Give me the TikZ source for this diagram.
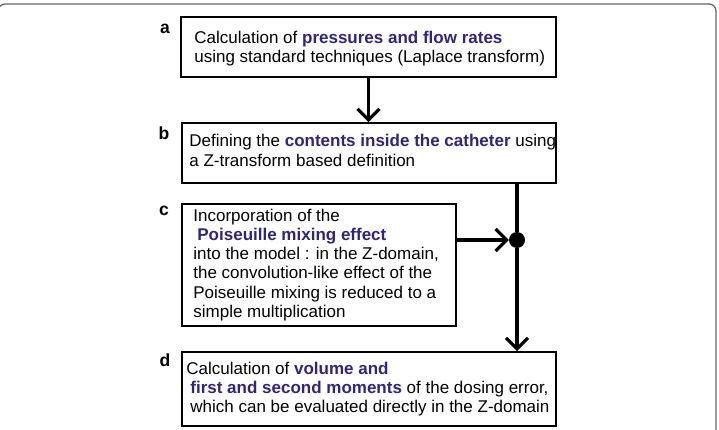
\documentclass[tikz,border=0pt]{standalone}
\usepackage{fontspec}
\setmainfont{Liberation Sans}
\usepackage{tikz}
\usetikzlibrary{arrows.meta,calc}
\definecolor{deepblue}{RGB}{46,37,125}
\def\hl#1{\textcolor{deepblue}{\bfseries #1}}

\begin{document}
\begin{tikzpicture}[x=1pt,y=-1pt,
  box/.style={draw,line width=1.6pt,inner sep=0pt},
  txt/.style={inner sep=0pt,align=left,anchor=west,font=\fontsize{17}{19.2}\selectfont},
  tag/.style={font=\fontsize{17.5}{19}\selectfont\bfseries},
  flow/.style={line width=3.2pt,-{Straight Barb[length=11pt,width=22pt,line width=3.2pt]}},
  link/.style={line width=3.2pt}]
  \useasboundingbox (0,0) rectangle (719,430);
  % outer frame
  \draw[gray!80!black,line width=1.3pt,rounded corners=7pt] (-2,470) |- (716,4) -- (716,470);
	% boxes
	\node[box,minimum width=375pt,minimum height=60pt] (a) at (368.5,47) {};
    \node[txt] (atxt) at ([xshift=14pt,yshift=-2pt]a.west) {Calculation of \hl{pressures and flow rates}\\using standard techniques (Laplace transform)};
    \node[tag] (la) at (165,29) {a};
	\node[box,minimum width=374pt,minimum height=60pt] (b) at (369,153) {};
    \node[txt] (btxt) at ([xshift=8pt,yshift=2.5pt]b.west) {Defining the \hl{contents inside the catheter} using\\a Z-transform based definition};
    \node[tag] (lb) at (164,133) {b};
	\node[box,minimum width=274pt,minimum height=122pt] (c) at (319,265) {};
    \node[txt] (ctxt) at ([xshift=12pt]c.west) {Incorporation of the\\\hspace*{4pt}\hl{Poiseuille mixing effect}\\into the model : in the Z-domain,\\the convolution-like effect of the\\Poiseuille mixing is reduced to a\\simple multiplication};
    \node[tag] (lc) at (164,211) {c};
	\node[box,minimum width=374pt,minimum height=74pt] (d) at (369,389) {};
    \node[txt] (dtxt) at ([xshift=5pt]d.west) {Calculation of \hl{volume and}\\\hspace*{4pt}\hl{first and second moments} of the dosing error,\\\hspace*{4pt}which can be evaluated directly in the Z-domain};
    \node[tag] (ld) at (165,360) {d};
	% connectors
	\node[circle,fill=black,inner sep=0pt,minimum size=16pt] (j) at (517,240) {};
    \draw[flow] (a.south) -- (a.south |- b.north);
    \draw[link] (b.south -| j) -- (j);
    \draw[flow] (c.east |- j) -- (j.west);
    \draw[flow] (j) -- (j |- d.north);
\end{tikzpicture}
\end{document}
